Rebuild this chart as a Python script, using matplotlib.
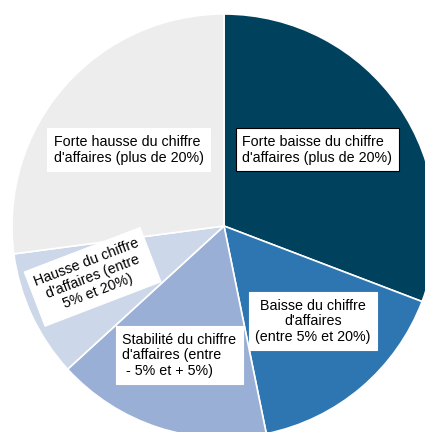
import matplotlib.pyplot as plt

plt.rcParams['font.family'] = ['Liberation Sans', 'DejaVu Sans']

labels = [
    "Forte baisse du chiffre\nd'affaires (plus de 20%)",
    "Baisse du chiffre\nd'affaires\n(entre 5% et 20%)",
    "Stabilité du chiffre\nd'affaires (entre\n - 5% et + 5%)",
    "Hausse du chiffre\nd'affaires (entre\n5% et 20%)",
    "Forte hausse du chiffre\nd'affaires (plus de 20%)",
]
values = [30.8, 16.0, 16.4, 9.7, 27.1]
colors = ["#00415e", "#2e76b1", "#9aafd5", "#ccd7ea", "#ededed"]

# label placement (data coords) and styling
label_pos = [(0.44, 0.36), (0.42, -0.45), (-0.21, -0.61), (-0.62, -0.24), (-0.45, 0.36)]
label_rot = [0, 0, 0, 21, 0]
label_ha = ["left", "center", "left", "center", "left"]
label_edge = ["black", "white", "white", "white", "white"]

fig = plt.figure(figsize=(4.25, 4.32), dpi=100)
ax = fig.add_axes([12 / 425, -6 / 432, 424 / 425, 424 / 432])

ax.pie(values, colors=colors, startangle=90, counterclock=False,
       wedgeprops=dict(edgecolor="white", linewidth=1.2), radius=1)

for lab, (x, y), rot, ha, ec in zip(labels, label_pos, label_rot, label_ha, label_edge):
    ax.text(x, y, lab, fontsize=10.3, ha="center", va="center", multialignment=ha,
            rotation=rot, rotation_mode="anchor", linespacing=1.15,
            bbox=dict(boxstyle="square,pad=0.45", fc="white", ec=ec, lw=0.8))

ax.set_xlim(-1, 1)
ax.set_ylim(-1, 1)
ax.axis("off")

fig.savefig("out.png", dpi=100)
